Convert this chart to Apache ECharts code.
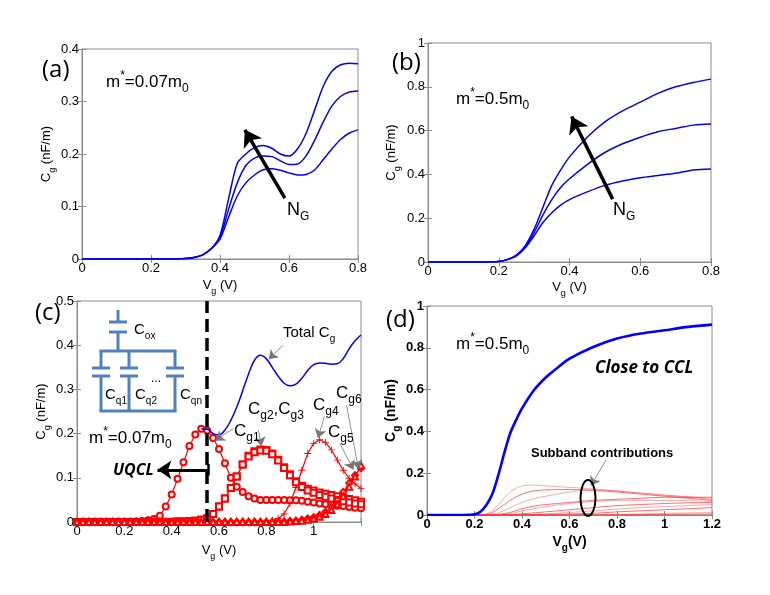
<!DOCTYPE html>
<html>
<head>
<meta charset="utf-8">
<script src="https://cdn.jsdelivr.net/npm/echarts@6/dist/echarts.min.js"></script>
<style>
html, body { margin: 0; padding: 0; background: #fff; }
#chart { width: 770px; height: 595px; }
</style>
</head>
<body>
<div id="chart"></div>
<script>
// (a) m*=0.07m0, three gate charge densities
var vA = [0, 0.05, 0.1, 0.15, 0.2, 0.25, 0.3, 0.325, 0.35, 0.375, 0.4, 0.425, 0.45, 0.475, 0.5, 0.525, 0.55, 0.575, 0.6, 0.625, 0.65, 0.675, 0.7, 0.725, 0.75, 0.775, 0.8];
var cA1 = [0, 0, 0, 0, 0, 0, 0.001, 0.003, 0.008, 0.02, 0.045, 0.115, 0.182, 0.2, 0.212, 0.216, 0.211, 0.2, 0.196, 0.21, 0.24, 0.285, 0.33, 0.358, 0.37, 0.373, 0.372];
var cA2 = [0, 0, 0, 0, 0, 0, 0.001, 0.003, 0.008, 0.02, 0.042, 0.095, 0.145, 0.178, 0.192, 0.196, 0.195, 0.187, 0.18, 0.181, 0.197, 0.227, 0.262, 0.292, 0.31, 0.318, 0.32];
var cA3 = [0, 0, 0, 0, 0, 0, 0.001, 0.003, 0.008, 0.02, 0.038, 0.08, 0.12, 0.145, 0.16, 0.17, 0.172, 0.169, 0.164, 0.16, 0.161, 0.17, 0.19, 0.21, 0.228, 0.24, 0.246];

// (b) m*=0.5m0
var vB = [0, 0.05, 0.1, 0.15, 0.2, 0.225, 0.25, 0.275, 0.3, 0.325, 0.35, 0.375, 0.4, 0.45, 0.5, 0.55, 0.6, 0.65, 0.7, 0.75, 0.8];
var cB1 = [0, 0, 0, 0, 0.002, 0.012, 0.032, 0.075, 0.15, 0.25, 0.35, 0.42, 0.48, 0.57, 0.64, 0.69, 0.73, 0.77, 0.8, 0.82, 0.835];
var cB2 = [0, 0, 0, 0, 0.002, 0.012, 0.03, 0.07, 0.135, 0.215, 0.285, 0.34, 0.38, 0.445, 0.5, 0.54, 0.57, 0.595, 0.61, 0.625, 0.63];
var cB3 = [0, 0, 0, 0, 0.002, 0.011, 0.028, 0.065, 0.12, 0.18, 0.225, 0.26, 0.285, 0.32, 0.35, 0.37, 0.385, 0.395, 0.405, 0.42, 0.425];

// (c) subband contributions, m*=0.07m0
var vC = [0, 0.025, 0.05, 0.075, 0.1, 0.125, 0.15, 0.175, 0.2, 0.225, 0.25, 0.275, 0.3, 0.325, 0.35, 0.375, 0.4, 0.425, 0.45, 0.475,
          0.5, 0.525, 0.55, 0.575, 0.6, 0.625, 0.65, 0.675, 0.7, 0.725, 0.75, 0.775, 0.8, 0.825, 0.85, 0.875, 0.9, 0.925, 0.95, 0.975,
          1.0, 1.025, 1.05, 1.075, 1.1, 1.125, 1.15, 1.175, 1.2];
var cg1 = [0, 0, 0, 0, 0, 0, 0, 0, 0, 0, 0.001, 0.002, 0.004, 0.007, 0.014, 0.035, 0.062, 0.098, 0.135, 0.172,
           0.198, 0.211, 0.207, 0.19, 0.165, 0.133, 0.1, 0.08, 0.068, 0.058, 0.053, 0.05, 0.05, 0.05, 0.05, 0.05, 0.049, 0.049, 0.048, 0.046,
           0.044, 0.042, 0.04, 0.039, 0.037, 0.036, 0.034, 0.032, 0.031];
var cg2 = [0, 0, 0, 0, 0, 0, 0, 0, 0, 0, 0, 0, 0, 0, 0, 0, 0, 0.001, 0.001, 0.002,
           0.003, 0.005, 0.008, 0.018, 0.035, 0.053, 0.077, 0.103, 0.13, 0.15, 0.16, 0.164, 0.163, 0.155, 0.141, 0.124, 0.108, 0.092, 0.082, 0.075,
           0.071, 0.067, 0.064, 0.061, 0.058, 0.055, 0.052, 0.049, 0.046];
var cg3 = [0, 0, 0, 0, 0, 0, 0, 0, 0, 0, 0, 0, 0, 0, 0, 0, 0, 0.001, 0.001, 0.002,
           0.003, 0.005, 0.008, 0.018, 0.035, 0.053, 0.077, 0.103, 0.13, 0.148, 0.158, 0.162, 0.161, 0.153, 0.139, 0.122, 0.106, 0.09, 0.079, 0.071,
           0.066, 0.061, 0.057, 0.053, 0.05, 0.047, 0.044, 0.042, 0.04];
var cg4 = [0, 0, 0, 0, 0, 0, 0, 0, 0, 0, 0, 0, 0, 0, 0, 0, 0, 0, 0, 0,
           0, 0, 0, 0, 0, 0, 0, 0, 0, 0, 0, 0.001, 0.002, 0.004, 0.008, 0.018, 0.042, 0.078, 0.117, 0.155,
           0.178, 0.186, 0.18, 0.163, 0.14, 0.117, 0.099, 0.086, 0.076];
var cg5 = [0, 0, 0, 0, 0, 0, 0, 0, 0, 0, 0, 0, 0, 0, 0, 0, 0, 0, 0, 0,
           0, 0, 0, 0, 0, 0, 0, 0, 0, 0, 0, 0, 0, 0, 0.001, 0.001, 0.002, 0.003, 0.005, 0.008,
           0.011, 0.016, 0.023, 0.034, 0.05, 0.068, 0.088, 0.106, 0.122];
var cg6 = [0, 0, 0, 0, 0, 0, 0, 0, 0, 0, 0, 0, 0, 0, 0, 0, 0, 0, 0, 0,
           0, 0, 0, 0, 0, 0, 0, 0, 0, 0, 0, 0, 0, 0, 0, 0, 0.001, 0.002, 0.003, 0.005,
           0.008, 0.012, 0.018, 0.027, 0.04, 0.058, 0.08, 0.103, 0.128];
var vTot = [0.525, 0.55, 0.575, 0.6, 0.625, 0.65, 0.675, 0.7, 0.725, 0.75, 0.775, 0.8, 0.825, 0.85, 0.875, 0.9, 0.925, 0.95, 0.975, 1.0, 1.025, 1.05, 1.075, 1.1, 1.125, 1.15, 1.175, 1.2];
var cTot = [0.211, 0.21, 0.2, 0.197, 0.208, 0.23, 0.26, 0.297, 0.335, 0.366, 0.377, 0.369, 0.35, 0.33, 0.314, 0.308, 0.312, 0.325, 0.343, 0.356, 0.36, 0.359, 0.357, 0.358, 0.37, 0.392, 0.41, 0.423];

// (d) m*=0.5m0, total and subbands
var vD = [0, 0.05, 0.1, 0.15, 0.2, 0.225, 0.25, 0.275, 0.3, 0.325, 0.35, 0.375, 0.4, 0.45, 0.5, 0.55, 0.6, 0.7, 0.8, 0.9, 1.0, 1.1, 1.2];
var cD = [0, 0, 0, 0, 0.003, 0.016, 0.048, 0.1, 0.19, 0.295, 0.39, 0.454, 0.51, 0.597, 0.658, 0.705, 0.748, 0.804, 0.844, 0.868, 0.884, 0.9, 0.911];
var vSub = [0.2, 0.25, 0.3, 0.35, 0.4, 0.45, 0.5, 0.6, 0.7, 0.8, 0.9, 1.0, 1.1, 1.2];
var subbands = [
    [0, 0.005, 0.05, 0.11, 0.139, 0.143, 0.14, 0.132, 0.125, 0.115, 0.105, 0.095, 0.088, 0.08],
    [0, 0.002, 0.03, 0.07, 0.1, 0.115, 0.12, 0.122, 0.118, 0.11, 0.1, 0.09, 0.08, 0.07],
    [0, 0.001, 0.01, 0.035, 0.06, 0.078, 0.09, 0.11, 0.12, 0.115, 0.105, 0.095, 0.085, 0.075],
    [0, 0, 0.003, 0.012, 0.03, 0.042, 0.05, 0.06, 0.07, 0.075, 0.08, 0.085, 0.085, 0.085],
    [0, 0, 0.002, 0.006, 0.02, 0.03, 0.04, 0.055, 0.065, 0.07, 0.07, 0.07, 0.068, 0.065],
    [0, 0, 0, 0.002, 0.006, 0.01, 0.015, 0.025, 0.035, 0.045, 0.05, 0.055, 0.058, 0.06],
    [0, 0, 0, 0, 0.001, 0.003, 0.005, 0.012, 0.02, 0.028, 0.035, 0.04, 0.045, 0.05],
    [0, 0, 0, 0, 0, 0.001, 0.002, 0.005, 0.008, 0.015, 0.02, 0.025, 0.03, 0.035],
    [0, 0, 0, 0, 0, 0, 0, 0.001, 0.002, 0.003, 0.005, 0.008, 0.01, 0.012],
    [0, 0, 0, 0, 0, 0, 0, 0, 0, 0.001, 0.002, 0.003, 0.004, 0.005]
];

var FONT = '"Liberation Sans", Arial, sans-serif';
var CAL = '"Open Sans", "Liberation Sans", sans-serif';
var BLUE = '#0000ff', RED = '#ff0000', BOX = '#8c8c8c', CIRC = '#4f81bd';

function pts(xs, ys) {
    return xs.map(function (x, i) { return [x, ys[i]]; });
}

// rich text styles: n = normal, s = subscript, p = superscript
function rich(size, weight, style, family) {
    var f = family || FONT, w = weight || 'normal', st = style || 'normal';
    var small = Math.round(size * 0.68);
    return {
        n: { fontSize: size, fontFamily: f, fontWeight: w, fontStyle: st, color: '#000', lineHeight: size + 8 },
        s: { fontSize: small, fontFamily: f, fontWeight: w, fontStyle: st, color: '#000', lineHeight: small + 1, verticalAlign: 'bottom' },
        p: { fontSize: small, fontFamily: f, fontWeight: w, fontStyle: st, color: '#000', lineHeight: small + 2, verticalAlign: 'top' }
    };
}

function label(x, y, text, r, align) {
    return {
        type: 'text', x: x, y: y, silent: true, z: 20,
        style: { text: text, rich: r, align: align || 'left', verticalAlign: 'middle',
                 textAlign: align || 'left', textVerticalAlign: 'middle' }
    };
}

var grids = [
    { left: 82, top: 49, width: 276, height: 210 },
    { left: 428, top: 43, width: 283, height: 219 },
    { left: 77, top: 301, width: 284, height: 221 },
    { left: 427, top: 306, width: 285, height: 209 }
];
grids.forEach(function (g) { g.show = true; g.borderColor = BOX; g.borderWidth = 1; g.containLabel = false; });

var xMax = [0.8, 0.8, 1.2, 1.2];
var yMax = [0.4, 1, 0.5, 1];
var yStep = [0.1, 0.2, 0.1, 0.2];
var xGap = [16, 15, 18, 16];
var yGap = [25, 26, 21, 25];

var xAxes = [], yAxes = [];
for (var i = 0; i < 4; i++) {
    var bold = i === 3 ? 'bold' : 'normal';
    var xName = i === 3 ? '{n|V}{s|g}{n|(V)}' : '{n|V}{s|g}{n| (V)}';
    var base = {
        type: 'value', gridIndex: i, min: 0,
        axisLine: { show: true, onZero: false, lineStyle: { color: BOX, width: 1 } },
        axisTick: { show: true, inside: true, length: 4, lineStyle: { color: BOX } },
        splitLine: { show: false }
    };
    xAxes.push(Object.assign({}, base, {
        max: xMax[i], interval: 0.2, position: 'bottom',
        name: xName, nameLocation: 'middle', nameGap: xGap[i],
        nameTextStyle: { rich: rich(i === 3 ? 14 : 13, bold) },
        axisLabel: {
            color: '#000', fontSize: 13, fontFamily: FONT, fontWeight: bold, margin: 3,
            formatter: (function (idx) {
                return function (v) { return (idx === 2 && v > 1.1) ? '' : String(Math.round(v * 10) / 10); };
            })(i)
        }
    }));
    yAxes.push(Object.assign({}, base, {
        max: yMax[i], interval: yStep[i], position: 'left',
        name: '{n|C}{s|g}{n| (nF/m)}', nameLocation: 'middle', nameGap: yGap[i], nameRotate: 90,
        nameTextStyle: { rich: rich(i === 3 ? 14 : 13, bold) },
        axisLabel: {
            color: '#000', fontSize: 13, fontFamily: FONT, fontWeight: bold, margin: 3,
            formatter: function (v) { return String(Math.round(v * 10) / 10); }
        }
    }));
}
// MATLAB-style ticks on top and right edges
for (var j = 0; j < 4; j++) {
    xAxes.push({
        type: 'value', gridIndex: j, min: 0, max: xMax[j], interval: 0.2, position: 'top',
        axisLine: { show: false }, axisLabel: { show: false }, splitLine: { show: false },
        axisTick: { show: true, inside: true, length: 4, lineStyle: { color: BOX } }
    });
    yAxes.push({
        type: 'value', gridIndex: j, min: 0, max: yMax[j], interval: yStep[j], position: 'right',
        axisLine: { show: false }, axisLabel: { show: false }, splitLine: { show: false },
        axisTick: { show: true, inside: true, length: 4, lineStyle: { color: BOX } }
    });
}

function line(idx, data, color, width, extra) {
    return Object.assign({
        type: 'line', xAxisIndex: idx, yAxisIndex: idx, data: data,
        showSymbol: false, symbol: 'none', smooth: 0.3,
        lineStyle: { color: color, width: width },
        itemStyle: { color: color }, silent: true, z: 3
    }, extra || {});
}

function arrow(from, to, color, width, size) {
    return [{ coord: from, symbol: 'none' }, { coord: to, symbol: 'arrow', symbolSize: size,
             lineStyle: { color: color, width: width, type: 'solid' } }];
}

var plusPath = 'path://M4.4,0h1.2v4.4h4.4v1.2h-4.4v4.4h-1.2v-4.4h-4.4v-1.2h4.4z';

function marked(data, symbol, size) {
    return line(2, data, RED, 1.2, {
        smooth: false, showSymbol: true, showAllSymbol: true, symbol: symbol, symbolSize: size,
        itemStyle: { color: RED, borderWidth: 1 }
    });
}

var series = [
    line(0, pts(vA, cA1), BLUE, 1.5, {
        markLine: { silent: true, animation: false, label: { show: false }, symbolSize: 16,
                    lineStyle: { color: '#000', width: 3.5, type: 'solid' },
                    data: [arrow([0.588, 0.116], [0.472, 0.246], '#000', 3.5, 16)] }
    }),
    line(0, pts(vA, cA2), BLUE, 1.5),
    line(0, pts(vA, cA3), BLUE, 1.5),
    line(1, pts(vB, cB1), BLUE, 1.5, {
        markLine: { silent: true, animation: false, label: { show: false }, symbolSize: 16,
                    lineStyle: { color: '#000', width: 3.5, type: 'solid' },
                    data: [arrow([0.522, 0.287], [0.406, 0.664], '#000', 3.5, 16)] }
    }),
    line(1, pts(vB, cB2), BLUE, 1.5),
    line(1, pts(vB, cB3), BLUE, 1.5),
    Object.assign(marked(pts(vC, cg1), 'emptyCircle', 6), {
        markLine: { silent: true, animation: false, label: { show: false }, symbolSize: 14,
                    lineStyle: { color: '#000', width: 3, type: 'solid' },
                    data: [
                        [{ coord: [0.55, 0], symbol: 'none' }, { coord: [0.55, 0.5], symbol: 'none', lineStyle: { color: '#000', width: 3.5, type: [13, 6] } }],
                        arrow([0.553, 0.118], [0.34, 0.118], '#000', 3, 14),
                        [{ coord: [0.553, 0.105], symbol: 'none' }, { coord: [0.553, 0.131], symbol: 'none', lineStyle: { color: '#000', width: 2.5, type: 'solid' } }]
                    ] }
    }),
    marked(pts(vC, cg2), 'emptyRect', 6),
    marked(pts(vC, cg3), 'emptyRect', 6),
    Object.assign(marked(pts(vC, cg4), plusPath, 7), {
        markLine: { silent: true, animation: false, label: { show: false }, symbolSize: 8,
                    lineStyle: { color: '#777', width: 0.8, type: 'solid' },
                    data: [
                        arrow([0.87, 0.4], [0.81, 0.368], '#777', 0.8, 9),
                        arrow([0.66, 0.212], [0.585, 0.184], '#777', 0.8, 9),
                        arrow([0.766, 0.208], [0.78, 0.172], '#777', 0.8, 9),
                        arrow([1.045, 0.238], [1.018, 0.19], '#777', 0.8, 9),
                        arrow([1.11, 0.179], [1.168, 0.118], '#777', 0.8, 9),
                        arrow([1.139, 0.264], [1.189, 0.12], '#777', 0.8, 9)
                    ] }
    }),
    marked(pts(vC, cg5), 'emptyDiamond', 6),
    marked(pts(vC, cg6), 'emptyTriangle', 6),
    line(2, pts(vTot, cTot), BLUE, 1.5, { smooth: 0.4, z: 4 })
];
subbands.forEach(function (sb, k) {
    series.push(line(3, pts(vSub, sb), k % 2 ? 'rgba(255,40,40,0.75)' : 'rgba(255,80,80,0.55)', 0.9, { smooth: 0.35, z: 2 }));
});
series.push(line(3, pts(vD, cD), BLUE, 2.6, {
    z: 5,
    markLine: { silent: true, animation: false, label: { show: false }, symbolSize: 9,
                lineStyle: { color: '#777', width: 0.8, type: 'solid' },
                data: [arrow([0.754, 0.263], [0.69, 0.14], '#777', 0.8, 9)] }
}));

// circuit inset in (c)
var circuit = [];
function seg(x1, y1, x2, y2) {
    circuit.push({ type: 'line', silent: true, shape: { x1: x1, y1: y1, x2: x2, y2: y2 },
                   style: { stroke: CIRC, lineWidth: 3 } });
}
seg(118, 310, 118, 322);
seg(109, 322, 127, 322);
seg(109, 332, 127, 332);
seg(118, 332, 118, 351);
seg(99.5, 351, 176.5, 351);
[101, 129, 175].forEach(function (x) {
    seg(x, 351, x, 368);
    seg(x - 9, 368, x + 9, 368);
    seg(x - 9, 376, x + 9, 376);
    seg(x, 376, x, 411);
});
seg(99.5, 411, 176.5, 411);

var tLabel = rich(24, 'normal', 'normal', CAL);
var tM = rich(17);
var tNg = rich(18);
var tC = rich(15);
var tCg = rich(17);

var graphics = circuit.concat([
    label(42, 70, '{n|(a)}', tLabel),
    label(392, 63, '{n|(b)}', tLabel),
    label(35, 313, '{n|(c)}', tLabel),
    label(386, 320, '{n|(d)}', tLabel),
    label(106, 82, '{n|m}{p|*}{n|=0.07m}{s|0}', tM),
    label(456, 99, '{n|m}{p|*}{n|=0.5m}{s|0}', tM),
    label(89, 438, '{n|m}{p|*}{n|=0.07m}{s|0}', tM),
    label(456, 344, '{n|m}{p|*}{n|=0.5m}{s|0}', tM),
    label(287, 210, '{n|N}{s|G}', tNg),
    label(613, 210, '{n|N}{s|G}', tNg),
    label(134, 330, '{n|C}{s|ox}', tC),
    label(105, 395, '{n|C}{s|q1}', tC),
    label(135, 395, '{n|C}{s|q2}', tC),
    label(180, 395, '{n|C}{s|qn}', tC),
    label(151, 379, '{n|...}', rich(12)),
    label(283, 333, '{n|Total C}{s|g}', rich(15)),
    label(234, 431, '{n|C}{s|g1}', tCg),
    label(248, 409, '{n|C}{s|g2}{n|,C}{s|g3}', tCg),
    label(313, 405, '{n|C}{s|g4}', tCg),
    label(328, 432, '{n|C}{s|g5}', tCg),
    label(336, 393, '{n|C}{s|g6}', tCg),
    label(113, 470, '{n|UQCL}', rich(16, 'bold', 'italic', CAL)),
    label(595, 368, '{n|Close to CCL}', rich(17, 'bold', 'italic', CAL)),
    label(531, 453, '{n|Subband contributions}', rich(13, 'bold')),
    { type: 'ellipse', silent: true, shape: { cx: 588, cy: 498, rx: 7.5, ry: 18 },
      style: { fill: 'none', stroke: '#000', lineWidth: 2 }, z: 10 }
]);

var chart = echarts.init(document.getElementById('chart'), null, { renderer: 'canvas' });
chart.setOption({
    animation: false,
    backgroundColor: '#fff',
    grid: grids,
    xAxis: xAxes,
    yAxis: yAxes,
    series: series,
    graphic: graphics
});
</script>
</body>
</html>
